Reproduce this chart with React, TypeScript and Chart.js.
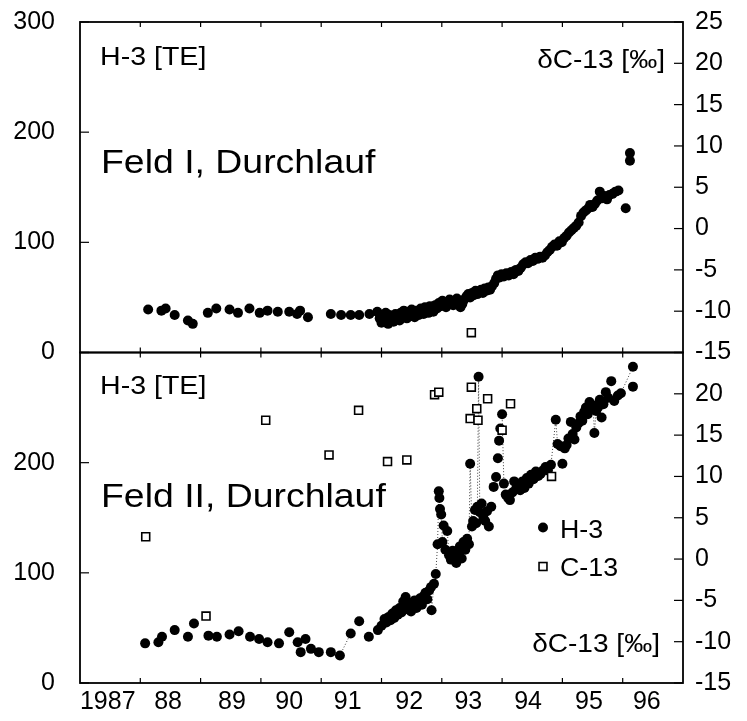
import React, { useEffect, useRef } from 'react';
import { Chart, registerables } from 'chart.js';

Chart.register(...registerables);

const FONT = '"Liberation Sans", Arial, Helvetica, sans-serif';

// ---- axes ----
const xMin = 1987;
const xMax = 1997;
const yearTicks = [1988, 1989, 1990, 1991, 1992, 1993, 1994, 1995, 1996];
const yearLabels = ['1987', '88', '89', '90', '91', '92', '93', '94', '95', '96'];
const yearLabelPos = [1987.46, 1988.46, 1989.52, 1990.47, 1991.44, 1992.46, 1993.44, 1994.43, 1995.44, 1996.4];

const h3Min = 0;
const h3Max = 300;
const h3Step = 100;
const c13Min = -15;
const c13Max = 25;
const c13Step = 5;

// ---- Feld I ----
const feld1H3Year = [
  1988.13, 1988.35, 1988.42, 1988.57, 1988.79, 1988.87, 1989.12, 1989.26, 1989.48, 1989.62,
  1989.81, 1989.98, 1990.11, 1990.28, 1990.47, 1990.6, 1990.65, 1990.78, 1991.16, 1991.33,
  1991.49, 1991.63, 1991.8, 1991.93,
  1991.97, 1992.0, 1992.02, 1992.04, 1992.07, 1992.09, 1992.11, 1992.13, 1992.16, 1992.18,
  1992.2, 1992.23, 1992.25, 1992.27, 1992.3, 1992.32, 1992.35, 1992.37, 1992.4, 1992.42,
  1992.45, 1992.47, 1992.5, 1992.52, 1992.55, 1992.57, 1992.6, 1992.62, 1992.65, 1992.67,
  1992.7, 1992.72, 1992.75, 1992.78, 1992.8, 1992.83, 1992.86, 1992.89, 1992.92, 1992.95,
  1992.98, 1993.01, 1993.04, 1993.07, 1993.1, 1993.13, 1993.16, 1993.19, 1993.22, 1993.25,
  1993.28, 1993.31, 1993.34, 1993.37, 1993.41, 1993.44, 1993.47, 1993.5, 1993.53, 1993.56,
  1993.59, 1993.62, 1993.65, 1993.68, 1993.71, 1993.74, 1993.77, 1993.8, 1993.83, 1993.87,
  1993.9, 1993.93, 1993.96, 1993.99, 1994.03, 1994.07, 1994.11, 1994.15, 1994.19, 1994.23,
  1994.27, 1994.31, 1994.35, 1994.39, 1994.43, 1994.47, 1994.51, 1994.55, 1994.59, 1994.63,
  1994.67, 1994.71, 1994.75, 1994.79, 1994.83, 1994.87, 1994.91, 1994.95, 1994.99, 1995.03,
  1995.07, 1995.11, 1995.15, 1995.19, 1995.23, 1995.27, 1995.31, 1995.35, 1995.39, 1995.43,
  1995.46, 1995.5, 1995.54, 1995.58, 1995.62, 1995.66, 1995.7, 1995.74, 1995.78, 1995.83,
  1995.88, 1995.93, 1996.05, 1996.12, 1996.12
];
const feld1H3 = [
  39, 38, 40, 34, 29, 26, 36, 40, 39, 36,
  40, 36, 38, 37, 37, 35, 38, 32, 35, 34,
  34, 34, 35, 37,
  31, 27, 33, 29, 36, 30, 26, 34, 29, 32,
  28, 35, 31, 33, 29, 36, 32, 38, 34, 31,
  37, 33, 39, 35, 32, 38, 36, 34, 40, 37,
  35, 41, 38, 36, 42, 39, 37, 43, 40, 45,
  42, 47, 44, 41, 46, 48, 45, 43, 47, 49,
  46, 41, 44, 48, 51, 53, 50, 54, 52, 56,
  53, 55, 57, 54, 58, 56, 59, 57, 60, 63,
  67, 70, 68, 71, 69, 72, 70, 73, 71, 75,
  74, 77, 80, 82, 81, 84, 83, 86, 85, 87,
  86, 88, 91, 93, 96, 98, 97, 101, 100, 104,
  106, 109, 111, 113, 115, 118, 124, 127, 129, 131,
  134, 132, 135, 138, 146, 140, 142, 139, 143, 144,
  146, 147, 131, 174, 181
];
const feld1C13Year = [1993.49];
const feld1C13 = [-12.6];

// ---- Feld II ----
const feld2H3Year = [
  1988.08, 1988.3, 1988.36, 1988.57, 1988.79, 1988.89, 1989.13, 1989.27, 1989.48, 1989.63,
  1989.82, 1989.97, 1990.11, 1990.3, 1990.47, 1990.61, 1990.66, 1990.74, 1990.83, 1990.96,
  1991.16, 1991.31, 1991.49, 1991.63, 1991.79, 1991.94,
  1992.0, 1992.05, 1992.08, 1992.12, 1992.15, 1992.18, 1992.21, 1992.24, 1992.27, 1992.3,
  1992.33, 1992.36, 1992.38, 1992.4, 1992.43, 1992.46, 1992.49, 1992.52, 1992.55, 1992.58,
  1992.61, 1992.64, 1992.67, 1992.7, 1992.73, 1992.76, 1992.79, 1992.82, 1992.83, 1992.87,
  1992.9, 1992.93, 1992.95, 1992.96, 1992.97, 1992.99, 1993.01, 1993.03, 1993.06, 1993.09,
  1993.12, 1993.15, 1993.18, 1993.21, 1993.24, 1993.27, 1993.3, 1993.33, 1993.36, 1993.39,
  1993.42, 1993.45, 1993.47, 1993.5, 1993.52, 1993.55, 1993.57, 1993.59, 1993.61, 1993.63,
  1993.66, 1993.69, 1993.72, 1993.75, 1993.78, 1993.82, 1993.86, 1993.9, 1993.93, 1993.95,
  1993.97, 1994.0, 1994.03, 1994.06, 1994.1, 1994.13, 1994.17, 1994.2, 1994.23, 1994.27,
  1994.3, 1994.34, 1994.37, 1994.41, 1994.44, 1994.48, 1994.52, 1994.56, 1994.6, 1994.64,
  1994.68, 1994.72, 1994.76, 1994.81, 1994.89, 1994.92, 1994.97, 1995.0, 1995.04, 1995.07,
  1995.1, 1995.14, 1995.17, 1995.2, 1995.23, 1995.27, 1995.3, 1995.33, 1995.36, 1995.39,
  1995.42, 1995.45, 1995.48, 1995.51, 1995.53, 1995.56, 1995.59, 1995.62, 1995.65, 1995.68,
  1995.72, 1995.76, 1995.81, 1995.86, 1995.92, 1995.97, 1996.17, 1996.17
];
const feld2H3 = [
  36, 37, 42, 48, 42, 54, 43, 42, 44, 47,
  42, 40, 37, 36, 46, 37, 28, 40, 31, 28,
  28, 25, 45, 56, 42, 48,
  52, 58, 55, 60, 57, 63, 59, 66, 62, 68,
  64, 74, 70, 78, 67, 72, 65, 70, 75, 68,
  73, 77, 71, 79, 82, 76, 84, 87, 66, 90,
  99, 126, 174, 168, 158, 153, 128, 143, 121, 138,
  116, 112, 120, 114, 109, 118, 124, 113, 128, 121,
  131, 126, 199, 142, 147, 157, 145, 160, 278, 155,
  163, 150, 147, 156, 142, 160, 178, 187, 204, 220,
  231, 244, 181, 171, 168, 166, 173, 183, 176, 180,
  175, 183, 177, 186, 181, 189, 185, 192, 188, 190,
  193, 196, 193, 198, 239, 217, 215, 199, 213, 216,
  222, 237, 226, 221, 232, 236, 242, 238, 246, 250,
  244, 255, 249, 252, 227, 247, 250, 257, 241, 253,
  264, 259, 274, 256, 261, 263, 287, 269
];
const feld2C13Year = [
  1988.09, 1989.09, 1990.08, 1991.13, 1991.62, 1992.1, 1992.42, 1992.88, 1992.95, 1993.47,
  1993.49, 1993.58, 1993.6, 1993.76, 1994.0, 1994.14, 1994.82
];
const feld2C13 = [
  2.7, -6.9, 16.8, 12.6, 18.0, 11.8, 12.0, 19.9, 20.2, 17.0,
  20.8, 18.2, 16.8, 19.4, 15.6, 18.8, 10.0
];

const pts = (xs: number[], ys: number[]) => xs.map((x, i) => ({ x, y: ys[i] }));

const squareStyle = {
  pointStyle: 'rect' as const,
  pointRadius: 5.6,
  pointBackgroundColor: '#ffffff',
  pointBorderColor: '#000000',
  pointBorderWidth: 1.6,
  showLine: false,
};
const dotStyle = {
  pointStyle: 'circle' as const,
  pointRadius: 5,
  pointBackgroundColor: '#000000',
  pointBorderColor: '#000000',
  pointBorderWidth: 0,
};

const framePlugin = {
  id: 'panelFrames',
  afterDatasetsDraw(chart: any) {
    const { ctx, scales } = chart;
    const x = scales.x;
    const panels = [
      [scales.yTop, scales.rTop],
      [scales.yBot, scales.rBot],
    ];
    ctx.save();
    ctx.strokeStyle = '#000';
    const line = (x1: number, y1: number, x2: number, y2: number) => {
      ctx.beginPath();
      ctx.moveTo(x1, y1);
      ctx.lineTo(x2, y2);
      ctx.stroke();
    };
    for (const [yl, yr] of panels) {
      ctx.lineWidth = 1.2;
      yl.ticks.forEach((t: any) => {
        const py = yl.getPixelForValue(t.value);
        line(x.left, py, x.left + 9, py);
      });
      yr.ticks.forEach((t: any) => {
        const py = yr.getPixelForValue(t.value);
        line(x.right - 9, py, x.right, py);
      });
      yearTicks.forEach((v) => {
        const px = x.getPixelForValue(v);
        line(px, yl.top, px, yl.top + 5);
        line(px, yl.bottom - 5, px, yl.bottom);
      });
      ctx.lineWidth = 1.8;
      ctx.strokeRect(x.left, yl.top, x.right - x.left, yl.bottom - yl.top);
    }
    ctx.restore();
  },
};

// draws real canvas text, widened horizontally like the scanned original
const wideText = (ctx: any, text: string, x: number, y: number, size: number, sx: number, align: string) => {
  ctx.save();
  ctx.font = `${size}px ${FONT}`;
  ctx.textAlign = align;
  ctx.textBaseline = 'alphabetic';
  ctx.translate(x, y);
  ctx.scale(sx, 1);
  ctx.fillText(text, 0, 0);
  ctx.restore();
};

const textPlugin = {
  id: 'panelTexts',
  afterDraw(chart: any) {
    const { ctx, scales } = chart;
    const x = scales.x;
    const top = scales.yTop;
    const bot = scales.yBot;
    ctx.save();
    ctx.fillStyle = '#000';

    wideText(ctx, 'H-3 [TE]', x.left + 20, top.top + 43, 25.5, 1.12, 'left');
    wideText(ctx, 'H-3 [TE]', x.left + 20, bot.top + 41, 25.5, 1.12, 'left');
    wideText(ctx, 'δC-13 [‰]', x.right - 18, top.top + 46, 25.5, 1.1, 'right');
    wideText(ctx, 'δC-13 [‰]', x.right - 23, bot.bottom - 31, 25.5, 1.1, 'right');

    wideText(ctx, 'Feld I, Durchlauf', x.left + 21, top.top + 151, 34, 1.1, 'left');
    wideText(ctx, 'Feld II, Durchlauf', x.left + 21, bot.top + 154, 34, 1.1, 'left');

    // legend
    const lx = x.left + 463;
    const ly1 = bot.top + 175;
    const ly2 = bot.top + 214;
    ctx.fillStyle = '#000';
    ctx.beginPath();
    ctx.arc(lx, ly1, dotStyle.pointRadius, 0, Math.PI * 2);
    ctx.fill();
    const s = squareStyle.pointRadius * Math.SQRT1_2;
    ctx.fillStyle = '#fff';
    ctx.fillRect(lx - s, ly2 - s, 2 * s, 2 * s);
    ctx.strokeStyle = '#000';
    ctx.lineWidth = squareStyle.pointBorderWidth;
    ctx.strokeRect(lx - s, ly2 - s, 2 * s, 2 * s);
    ctx.fillStyle = '#000';
    wideText(ctx, 'H-3', lx + 17, ly1 + 10, 25.5, 1.05, 'left');
    wideText(ctx, 'C-13', lx + 17, ly2 + 9, 25.5, 1.05, 'left');
    ctx.restore();
  },
};

const tickFont = { family: FONT, size: 25 };

const noPad = (s: any) => {
  s.paddingTop = 0;
  s.paddingBottom = 0;
  s.paddingLeft = 0;
  s.paddingRight = 0;
};

export default function App() {
  const ref = useRef<HTMLCanvasElement | null>(null);

  useEffect(() => {
    if (!ref.current) return;
    const chart = new Chart(ref.current, {
      type: 'scatter',
      data: {
        datasets: [
          { label: 'C-13 Feld I', data: pts(feld1C13Year, feld1C13), yAxisID: 'rTop', ...squareStyle },
          { label: 'C-13 Feld II', data: pts(feld2C13Year, feld2C13), yAxisID: 'rBot', ...squareStyle },
          { label: 'H-3 Feld I', data: pts(feld1H3Year, feld1H3), yAxisID: 'yTop', ...dotStyle, showLine: false },
          {
            label: 'H-3 Feld II',
            data: pts(feld2H3Year, feld2H3),
            yAxisID: 'yBot',
            ...dotStyle,
            showLine: true,
            borderColor: '#000',
            borderWidth: 1,
            borderDash: [1, 2],
            segment: {
              borderColor: (c: any) =>
                Math.abs(c.p1.y - c.p0.y) > 22 ? 'rgba(0,0,0,0.75)' : 'rgba(0,0,0,0)',
            },
          } as any,
        ],
      },
      options: {
        responsive: false,
        animation: false,
        devicePixelRatio: 1,
        events: [],
        layout: { padding: { top: 22, left: 0, right: 0, bottom: 0 } },
        plugins: { legend: { display: false }, tooltip: { enabled: false }, title: { display: false } },
        scales: {
          x: {
            type: 'linear',
            position: 'bottom',
            min: xMin,
            max: xMax,
            afterBuildTicks: (s: any) => {
              s.ticks = yearLabelPos.map((v) => ({ value: v }));
            },
            afterFit: (s: any) => {
              s.height = 38;
              noPad(s);
            },
            ticks: {
              autoSkip: false,
              maxRotation: 0,
              padding: 4,
              color: '#000',
              font: tickFont,
              callback: (_v: any, i: number) => yearLabels[i],
            },
            grid: { display: false, drawTicks: false },
            border: { display: false },
          },
          yTop: {
            type: 'linear',
            position: 'left',
            stack: 'L',
            weight: 2,
            min: h3Min,
            max: h3Max,
            afterFit: (s: any) => {
              s.width = 80;
              noPad(s);
            },
            ticks: { autoSkip: false, stepSize: h3Step, padding: 25, color: '#000', font: tickFont, callback: (v: any) => String(v) },
            grid: { display: false, drawTicks: false },
            border: { display: false },
          },
          yBot: {
            type: 'linear',
            position: 'left',
            stack: 'L',
            weight: 1,
            min: h3Min,
            max: h3Max,
            afterFit: (s: any) => {
              s.width = 80;
              noPad(s);
            },
            ticks: {
              autoSkip: false,
              stepSize: h3Step,
              padding: 25,
              color: '#000',
              font: tickFont,
              callback: (v: any) => (v === h3Max ? '' : String(v)),
            },
            grid: { display: false, drawTicks: false },
            border: { display: false },
          },
          rTop: {
            type: 'linear',
            position: 'right',
            stack: 'R',
            weight: 1,
            min: c13Min,
            max: c13Max,
            afterFit: (s: any) => {
              s.width = 64;
              noPad(s);
            },
            ticks: { autoSkip: false, stepSize: c13Step, padding: 12, color: '#000', font: tickFont, callback: (v: any) => String(v) },
            grid: { display: false, drawTicks: false },
            border: { display: false },
          },
          rBot: {
            type: 'linear',
            position: 'right',
            stack: 'R',
            weight: 2,
            min: c13Min,
            max: c13Max,
            afterFit: (s: any) => {
              s.width = 64;
              noPad(s);
            },
            ticks: {
              autoSkip: false,
              stepSize: c13Step,
              padding: 12,
              color: '#000',
              font: tickFont,
              callback: (v: any) => (v === c13Max ? '' : String(v)),
            },
            grid: { display: false, drawTicks: false },
            border: { display: false },
          },
        },
      } as any,
      plugins: [framePlugin, textPlugin],
    });
    return () => chart.destroy();
  }, []);

  return (
    <div style={{ position: 'absolute', left: 0, top: 0, width: 747, height: 721, background: '#fff' }}>
      <canvas ref={ref} width={747} height={721} style={{ display: 'block', width: 747, height: 721 }} />
    </div>
  );
}
